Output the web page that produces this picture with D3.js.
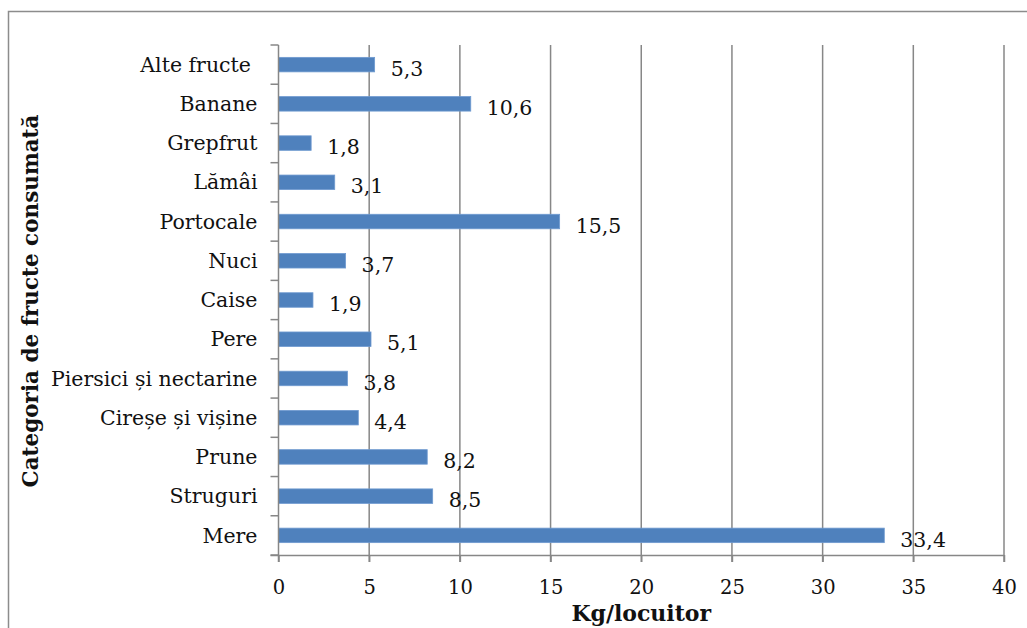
<!DOCTYPE html>
<html><head><meta charset="utf-8">
<script src="https://cdn.jsdelivr.net/npm/d3@7"></script>
<style>html,body{margin:0;padding:0;background:#fff;}svg{display:block;}</style>
</head><body>
<svg id="chart" width="1027" height="628"></svg>
<script>
const categories = ["Alte fructe ", "Banane", "Grepfrut", "Lămâi", "Portocale", "Nuci", "Caise", "Pere", "Piersici și nectarine", "Cireșe și vișine", "Prune", "Struguri", "Mere"];
const values = [5.3, 10.6, 1.8, 3.1, 15.5, 3.7, 1.9, 5.1, 3.8, 4.4, 8.2, 8.5, 33.4];
const xTicks = [0, 5, 10, 15, 20, 25, 30, 35, 40];
const xTitle = "Kg/locuitor";
const yTitle = "Categoria de fructe consumată";

const svg = d3.select("#chart");
const font = "DejaVu Serif, serif";
const plot = {left: 278.5, right: 1004, top: 45, bottom: 555};
const grid = "#878787";

// outer chart border
svg.append("path").attr("d", "M8.5,640 V11.5 H1040").attr("fill", "none").attr("stroke", "#8c8c8c").attr("stroke-width", 1.5);

const x = d3.scaleLinear().domain([0, 40]).range([plot.left, plot.right]);
const y = d3.scaleBand().domain(categories).range([plot.top, plot.bottom]).paddingInner(0.63).paddingOuter(0.315);
const yb = d3.scaleBand().domain(categories).range([plot.top, plot.bottom]);

// gridlines
svg.append("g").selectAll("line").data(xTicks.slice(1)).join("line")
  .attr("x1", d => x(d)).attr("x2", d => x(d))
  .attr("y1", plot.top).attr("y2", plot.bottom + 7)
  .attr("stroke", grid).attr("stroke-width", 1.5);

// bars
svg.append("g").selectAll("rect").data(values).join("rect")
  .attr("x", x(0)).attr("y", (d, i) => y(categories[i]))
  .attr("width", d => x(d) - x(0)).attr("height", y.bandwidth())
  .attr("fill", "#4F81BD").attr("stroke", "#6F9AD0").attr("stroke-width", 0.8);

// x axis
const xAxis = svg.append("g").attr("transform", `translate(0,${plot.bottom})`)
  .call(d3.axisBottom(x).tickValues(xTicks).tickSize(7).tickSizeOuter(0).tickPadding(18).tickFormat(d => String(d)));
xAxis.select(".domain").attr("d", `M${plot.left - 8},0.5H${plot.right}`).attr("stroke", grid).attr("stroke-width", 1.5);
xAxis.selectAll(".tick line").attr("stroke", grid).attr("stroke-width", 1.5);
xAxis.selectAll("text").attr("font-family", font).attr("font-size", 19.5).attr("fill", "#111");

// y axis (ticks at band boundaries)
const yAxisG = svg.append("g");
yAxisG.append("line").attr("x1", plot.left).attr("x2", plot.left).attr("y1", plot.top).attr("y2", plot.bottom + 7)
  .attr("stroke", grid).attr("stroke-width", 1.5);
const bounds = categories.map(c => yb(c)).concat([plot.bottom]);
yAxisG.selectAll("line.t").data(bounds).join("line").attr("class", "t")
  .attr("x1", plot.left - 8).attr("x2", plot.left).attr("y1", d => d).attr("y2", d => d)
  .attr("stroke", grid).attr("stroke-width", 1.5);
yAxisG.selectAll("text").data(categories).join("text")
  .attr("x", plot.left - 21).attr("y", d => yb(d) + yb.bandwidth() / 2)
  .attr("dy", "0.35em").attr("text-anchor", "end")
  .style("white-space", "pre")
  .attr("font-family", font).attr("font-size", 20.5).attr("fill", "#111").text(d => d);

// value labels
svg.append("g").selectAll("text").data(values).join("text")
  .attr("x", d => x(d) + 16).attr("y", (d, i) => yb(categories[i]) + yb.bandwidth() / 2 + 4)
  .attr("dy", "0.35em")
  .attr("font-family", font).attr("font-size", 20.5).attr("fill", "#111")
  .text(d => d3.format(".1f")(d).replace(".", ","));

// titles
svg.append("text").attr("x", (plot.left + plot.right) / 2).attr("y", 621)
  .attr("text-anchor", "middle").attr("font-family", font).attr("font-weight", "bold").attr("font-size", 22).attr("fill", "#111").text(xTitle);
svg.append("text").attr("transform", `translate(38,${(plot.top + plot.bottom) / 2 + 1}) rotate(-90)`)
  .attr("text-anchor", "middle").attr("font-family", font).attr("font-weight", "bold").attr("font-size", 21.5).attr("fill", "#111").text(yTitle);
</script>
</body></html>
